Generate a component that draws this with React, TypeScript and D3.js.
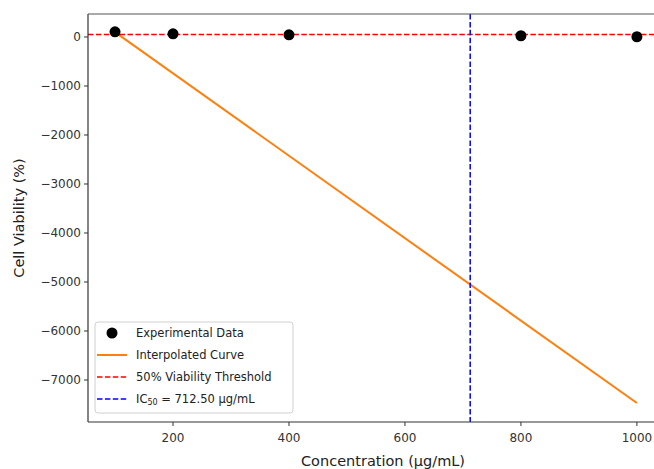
import React from 'react'
import * as d3 from 'd3'

// values
const concentrations = [100, 200, 400, 800, 1000]
const viability = [105, 65, 45, 25, 5]
const curveConc = [100, 1000]
const curveViability = [100, -7470]
const threshold = 50
const ic50 = 712.5
const xTicks = [200, 400, 600, 800, 1000]
const yTicks = [0, -1000, -2000, -3000, -4000, -5000, -6000, -7000]
const legendLabels = ['Experimental Data', 'Interpolated Curve', '50% Viability Threshold', 'IC50 = 712.50 μg/mL']

const width = 654
const height = 469
const margin = { top: 14, left: 88, bottom: 47, right: -9 }

const xScale = d3.scaleLinear()
  .domain([53.4, 1045])
  .range([margin.left, width - margin.right])

const yScale = d3.scaleLinear()
  .domain([-7857, 469])
  .range([height - margin.bottom, margin.top])

const fmt = (v: number) => (v < 0 ? '\u2212' + Math.abs(v) : String(v))
const font = '"DejaVu Sans", sans-serif'
const dash = '5.5,2.4'

export default function App() {
  const line = d3.line<number>()
    .x((_, i) => xScale(curveConc[i]))
    .y(d => yScale(d))

  const x0 = margin.left
  const y0 = height - margin.bottom
  const lx = 95
  const ly = 322
  const rowH = 22

  const legendHandle = (i: number, y: number) => {
    if (i === 0) return <circle cx={lx + 17} cy={y} r={5.5} fill='#000' />
    if (i === 1) return <line x1={lx + 2} x2={lx + 32} y1={y} y2={y} stroke='#ff7f0e' strokeWidth={2} />
    const c = i === 2 ? '#ff0000' : '#0000ff'
    return <line x1={lx + 2} x2={lx + 32} y1={y} y2={y} stroke={c} strokeWidth={1.5} strokeDasharray={dash} />
  }

  return (
    <svg width={width} height={height} style={{ position: 'absolute', left: 0, top: 0, background: '#fff' }}
      fontFamily={font}>
      <defs>
        <clipPath id='plot'>
          <rect x={x0} y={margin.top} width={width - x0 + 20} height={y0 - margin.top} />
        </clipPath>
      </defs>

      <g clipPath='url(#plot)'>
        <path d={line(curveViability) || ''} fill='none' stroke='#ff7f0e' strokeWidth={2} />
        <line x1={x0} x2={width} y1={yScale(threshold)} y2={yScale(threshold)}
          stroke='#ff0000' strokeWidth={1.5} strokeDasharray={dash} />
        <line x1={xScale(ic50)} x2={xScale(ic50)} y1={margin.top} y2={y0}
          stroke='#0000ff' strokeWidth={1.5} strokeDasharray={dash} />
        {concentrations.map((c, i) => (
          <circle key={c} cx={xScale(c)} cy={yScale(viability[i])} r={5.5} fill='#000' />
        ))}
      </g>

      {/* spines */}
      <line x1={x0} x2={x0} y1={margin.top} y2={y0} stroke='#333' strokeWidth={1.2} />
      <line x1={x0} x2={width} y1={y0} y2={y0} stroke='#333' strokeWidth={1.2} />
      <line x1={x0} x2={width} y1={margin.top} y2={margin.top} stroke='#555' strokeWidth={1.2} />

      {yTicks.map(t => (
        <g key={t}>
          <line x1={x0 - 4} x2={x0} y1={yScale(t)} y2={yScale(t)} stroke='#333' />
          <text x={x0 - 7} y={yScale(t)} dy='0.35em' textAnchor='end' fontSize={12} fill='#333'>{fmt(t)}</text>
        </g>
      ))}
      {xTicks.map(t => (
        <g key={t}>
          <line x1={xScale(t)} x2={xScale(t)} y1={y0} y2={y0 + 4} stroke='#333' />
          <text x={xScale(t)} y={y0 + 20} textAnchor='middle' fontSize={12} fill='#333'>{fmt(t)}</text>
        </g>
      ))}

      <text x={383} y={466} textAnchor='middle' fontSize={14.5} fill='#222'>Concentration (μg/mL)</text>
      <text transform={`translate(24,${(margin.top + y0) / 2}) rotate(-90)`} textAnchor='middle'
        fontSize={14.5} fill='#222'>Cell Viability (%)</text>

      {/* legend */}
      <rect x={lx} y={ly} width={198} height={91} rx={3} fill='#fff' fillOpacity={0.8}
        stroke='#d0d0d0' strokeWidth={1} />
      {legendLabels.map((label, i) => {
        const y = ly + 11 + i * rowH
        return (
          <g key={label}>
            {legendHandle(i, y)}
            {i === 3 ? (
              <text x={lx + 41} y={y} dy='0.35em' fontSize={11.5} fill='#222'>
                IC<tspan fontSize={8} dy='2'>50</tspan><tspan dy='-2'> = 712.50 μg/mL</tspan>
              </text>
            ) : (
              <text x={lx + 41} y={y} dy='0.35em' fontSize={11.5} fill='#222'>{label}</text>
            )}
          </g>
        )
      })}
    </svg>
  )
}
